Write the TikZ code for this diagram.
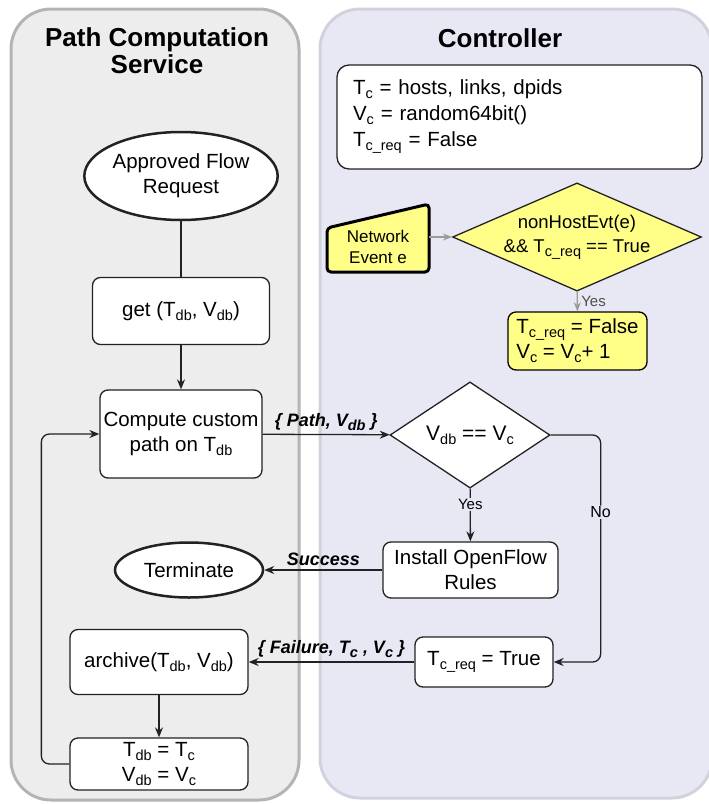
\documentclass[tikz,border=0pt]{standalone}
\usepackage{fontspec}
\setmainfont{Liberation Sans}
\usetikzlibrary{shapes.geometric, arrows.meta, calc}

\definecolor{laneL}{HTML}{EDEDED}
\definecolor{laneLb}{HTML}{B4B4B4}
\definecolor{laneR}{HTML}{E8E8F5}
\definecolor{laneRb}{HTML}{D2D2DE}
\definecolor{evt}{HTML}{FFFF88}
\definecolor{ink}{HTML}{222222}
\definecolor{dim}{HTML}{9A9A9A}

% lowered subscript in the text font
\newcommand{\lo}[1]{\raisebox{-4pt}{\fontsize{14.5}{14.5}\selectfont #1}}

\tikzset{
  lane/.style={line width=3pt, rounded corners=40pt},
  heading/.style={font=\fontsize{26}{27}\selectfont\bfseries, align=center},
  stepbox/.style={draw=ink, fill=white, line width=1.3pt, rounded corners=8pt, align=center, inner sep=2pt},
  terminal/.style={ellipse, draw=ink, fill=white, line width=2.5pt, align=center, inner sep=0pt},
  test/.style={diamond, draw=ink, fill=white, line width=1.3pt, align=center, inner sep=0pt},
  flow/.style={draw=ink, line width=1.3pt, -{Stealth[length=10pt,width=8pt]}},
  dimflow/.style={draw=dim, line width=1.3pt, -{Stealth[length=9pt,width=7pt]}},
  tag/.style={font=\fontsize{18}{22}\selectfont\bfseries\itshape},
  answer/.style={font=\fontsize{15}{18}\selectfont, fill=laneR, inner sep=1pt}
}

\begin{document}
\begin{tikzpicture}[x=1pt, y=-1pt, font=\fontsize{20.5}{25}\selectfont]
  \useasboundingbox (0,0) rectangle (709,804);
  % swimlanes
  \filldraw[lane, fill=laneL, draw=laneLb] (11,9) rectangle (299,800);
  \filldraw[lane, fill=laneR, draw=laneRb] (320,9) rectangle (712,798);
  \node[heading] (pcs) at (157,51) {Path Computation\\Service};
  \node[heading] (ctl) at (500,38) {Controller};

  % path computation service
  \node[terminal, minimum width=183pt, minimum height=88pt] (apr) at (181,176) {Approved Flow\\Request};
  \node[stepbox, minimum width=177pt, minimum height=67pt] (get) at (181,311) {get (T\lo{db}, V\lo{db})};
  \node[stepbox, minimum width=162pt, minimum height=88pt] (cmp) at (181,434) {Compute custom\\path on T\lo{db}};
  \node[terminal, minimum width=148pt, minimum height=55pt] (term) at (189,570) {Terminate};
  \node[stepbox, minimum width=178pt, minimum height=65pt] (arch) at (159,662) {archive(T\lo{db}, V\lo{db})};
  \node[stepbox, minimum width=178pt, minimum height=52pt] (fin) at (159,764) {T\lo{db} = T\lo{c}\\V\lo{db} = V\lo{c}};

  % controller
  \node[stepbox, rounded corners=12pt, minimum width=365pt, minimum height=104pt, text width=333pt, align=left,
    font=\fontsize{20.5}{26}\selectfont] (init) at (519.5,117)
    {T\lo{c} = hosts, links, dpids\\V\lo{c} = random64bit()\\T\lo{c\_req} = False};
  \filldraw[draw=black, fill=evt, line width=3pt, rounded corners=4pt]
    (327,272) -- (327,228) -- (429,204) -- (429,272) -- cycle;
  \node[minimum width=102pt, minimum height=52pt, align=center, font=\fontsize{17}{21}\selectfont] (nev) at (378,247) {Network\\Event e};
  \node[test, fill=evt, aspect=2.3, minimum width=243pt, minimum height=103pt, font=\fontsize{18.5}{24}\selectfont] (hev) at (577,237)
    {nonHostEvt(e)\\\&\& T\lo{c\_req} == True};
  \node[stepbox, fill=evt, draw=black, align=left, minimum width=139pt, minimum height=58pt] (upd) at (577.5,341)
    {T\lo{c\_req} = False\\V\lo{c} = V\lo{c}+ 1};
  \node[test, minimum width=160pt, minimum height=104pt, font=\fontsize{21}{24}\selectfont] (vdb) at (470,435) {V\lo{db} == V\lo{c}};
  \node[stepbox, minimum width=175pt, minimum height=56pt] (inst) at (470.5,570) {Install OpenFlow\\Rules};
  \node[stepbox, minimum width=138pt, minimum height=50pt] (treq) at (484,662) {T\lo{c\_req} = True};

  % connectors
  \draw[draw=ink, line width=1.3pt] (apr) -- (get);
  \draw[flow] (get) -- (cmp);
  \draw[flow] (cmp) -- node[tag, above] {\{ Path, V\lo{db} \}} (vdb);
  \draw[flow] (vdb) -- node[answer, pos=0.3] {Yes} (inst);
  \draw[flow] (inst) -- node[tag, above] {Success} (term);
  \draw[flow, rounded corners=8pt] (vdb.east) -| node[answer, pos=0.67, font=\fontsize{16}{18}\selectfont] {No}
    ($(treq.east)+(47,0)$) -- (treq.east);
  \draw[flow] (treq) -- node[tag, above] {\{ Failure, T\lo{c} , V\lo{c} \}} (arch);
  \draw[flow] (arch) -- (fin);
  \draw[flow, rounded corners=8pt] (fin.west) -- ($(fin.west)+(-28,0)$) |- (cmp.west);
  \draw[dimflow] (nev.east |- hev.west) -- (hev.west);
  \draw[dimflow] (hev) -- node[right, text=ink!80, font=\fontsize{15}{18}\selectfont] {Yes} (upd);
\end{tikzpicture}
\end{document}
